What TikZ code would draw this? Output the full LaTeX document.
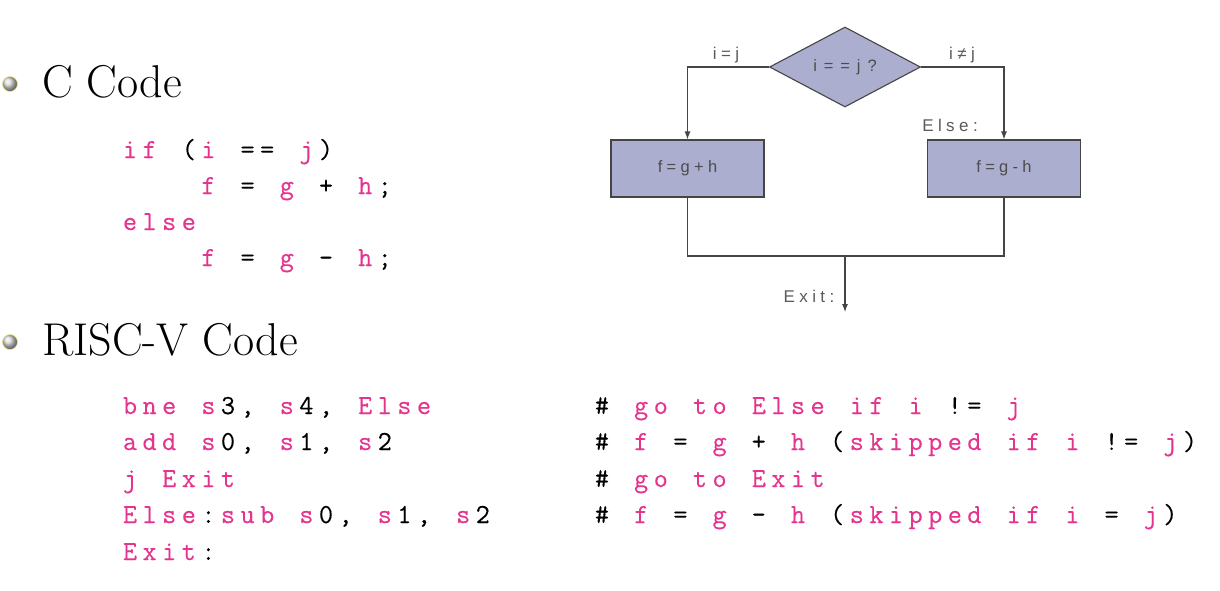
\documentclass[tikz,border=0pt]{standalone}
\usepackage{fontspec}
\usetikzlibrary{shapes.geometric,arrows.meta}
\setmonofont{Latin Modern Mono}[FakeBold=0.25]
\newfontfamily\flowfont{Liberation Sans}[LetterSpace=26]
\definecolor{codepink}{HTML}{E4348E}
\definecolor{boxfill}{HTML}{ABAECF}
\definecolor{flowline}{HTML}{454545}
\definecolor{flowtext}{HTML}{5A5A5A}
\newlength\pitch
\setlength\pitch{19.6pt}
% fixed-pitch code: every token in a cell of width \pitch,
% letters in pink, other characters in black, ~ is an empty cell
\ExplSyntaxOn
\NewDocumentCommand\code{m}
  {
    \tl_map_inline:nn {#1}
      {
        \token_if_active:NTF ##1
          { \hbox_to_wd:nn { \pitch } { } }
          {
            \token_if_letter:NTF ##1
              { \makebox[\pitch][c]{\color{codepink}##1} }
              { \makebox[\pitch][c]{##1} }
          }
      }
  }
\ExplSyntaxOff
\tikzset{
  heading/.style={anchor=base west, inner sep=0pt, font=\fontsize{46}{54}\selectfont},
  codeline/.style={anchor=base west, inner sep=0pt, font=\ttfamily\fontsize{27.5}{30}\selectfont},
  bulletball/.style={ball color=gray!30},
  procbox/.style={draw=flowline, fill=boxfill, line width=1.1pt, minimum width=153pt, minimum height=57pt, inner sep=0pt, font=\flowfont\fontsize{16.5}{19}\selectfont, text=flowtext!85!black},
  decision/.style={diamond, draw=flowline, fill=boxfill, line width=1.1pt, minimum width=151pt, minimum height=80pt, inner sep=0pt, font=\flowfont\fontsize{16.5}{19}\selectfont\addfontfeatures{LetterSpace=42}, text=flowtext!85!black},
  flow/.style={draw=flowline, line width=1.1pt},
  flowarrow/.style={flow, -{Latex[length=8pt,width=6pt]}},
  flowlabel/.style={inner sep=0pt, font=\flowfont\fontsize{17}{20}\selectfont, text=flowtext},
}
\begin{document}
\begin{tikzpicture}[x=1pt, y=-1pt]
\useasboundingbox (0,0) rectangle (1220,590);

% bullets and headings
\shade[bulletball] (10,84) circle (7.5);
\draw[yellow!70!brown!55, line width=0.6pt] (10,84) circle (7.5);
\node[heading] (hc) at (42,97) {C Code};
\shade[bulletball] (10,342) circle (7.5);
\draw[yellow!70!brown!55, line width=0.6pt] (10,342) circle (7.5);
\node[heading] (hr) at (42,355) {RISC-V Code};

% C source
\node[codeline] (c1) at (120,158) {\code{if~(i~==~j)}};
\node[codeline] (c2) at (120,194) {\code{~~~~f~=~g~+~h;}};
\node[codeline] (c3) at (120,230) {\code{else}};
\node[codeline] (c4) at (120,266) {\code{~~~~f~=~g~-~h;}};

% RISC-V assembly
\node[codeline] (r1) at (120,414) {\code{bne~s3,~s4,~Else}};
\node[codeline] (r2) at (120,450) {\code{add~s0,~s1,~s2}};
\node[codeline] (r3) at (120,487) {\code{j~Exit}};
\node[codeline] (r4) at (120,523) {\code{Else:sub~s0,~s1,~s2}};
\node[codeline] (r5) at (120,560) {\code{Exit:}};

% comments
\node[codeline] (m1) at (592,414) {\code{\#~go~to~Else~if~i~!=~j}};
\node[codeline] (m2) at (592,450) {\code{\#~f~=~g~+~h~(skipped~if~i~!=~j)}};
\node[codeline] (m3) at (592,487) {\code{\#~go~to~Exit}};
\node[codeline] (m4) at (592,523) {\code{\#~f~=~g~-~h~(skipped~if~i~=~j)}};

% flowchart
\node[decision] (test) at (845,67) {i==j?};
\node[procbox] (thenbox) at (687.5,168.5) {f=g+h};
\node[procbox] (elsebox) at (1004,168.5) {f=g-h};
\coordinate (join) at (845,256);
\coordinate (exitend) at (845,312);

\draw[flowarrow] (test.west) -| (thenbox.north);
\draw[flowarrow] (test.east) -| (elsebox.north);
\draw[flow] (thenbox.south) |- (join) -| (elsebox.south);
\draw[flowarrow] (join) -- (exitend);

\node[flowlabel] (eqlab) at (726,55) {i=j};
\node[flowlabel] (nelab) at (962,55) {i≠j};
\node[flowlabel] (elselab) at (950,125) {Else:};
\node[flowlabel] (exitlab) at (809,296) {Exit:};
\end{tikzpicture}
\end{document}
